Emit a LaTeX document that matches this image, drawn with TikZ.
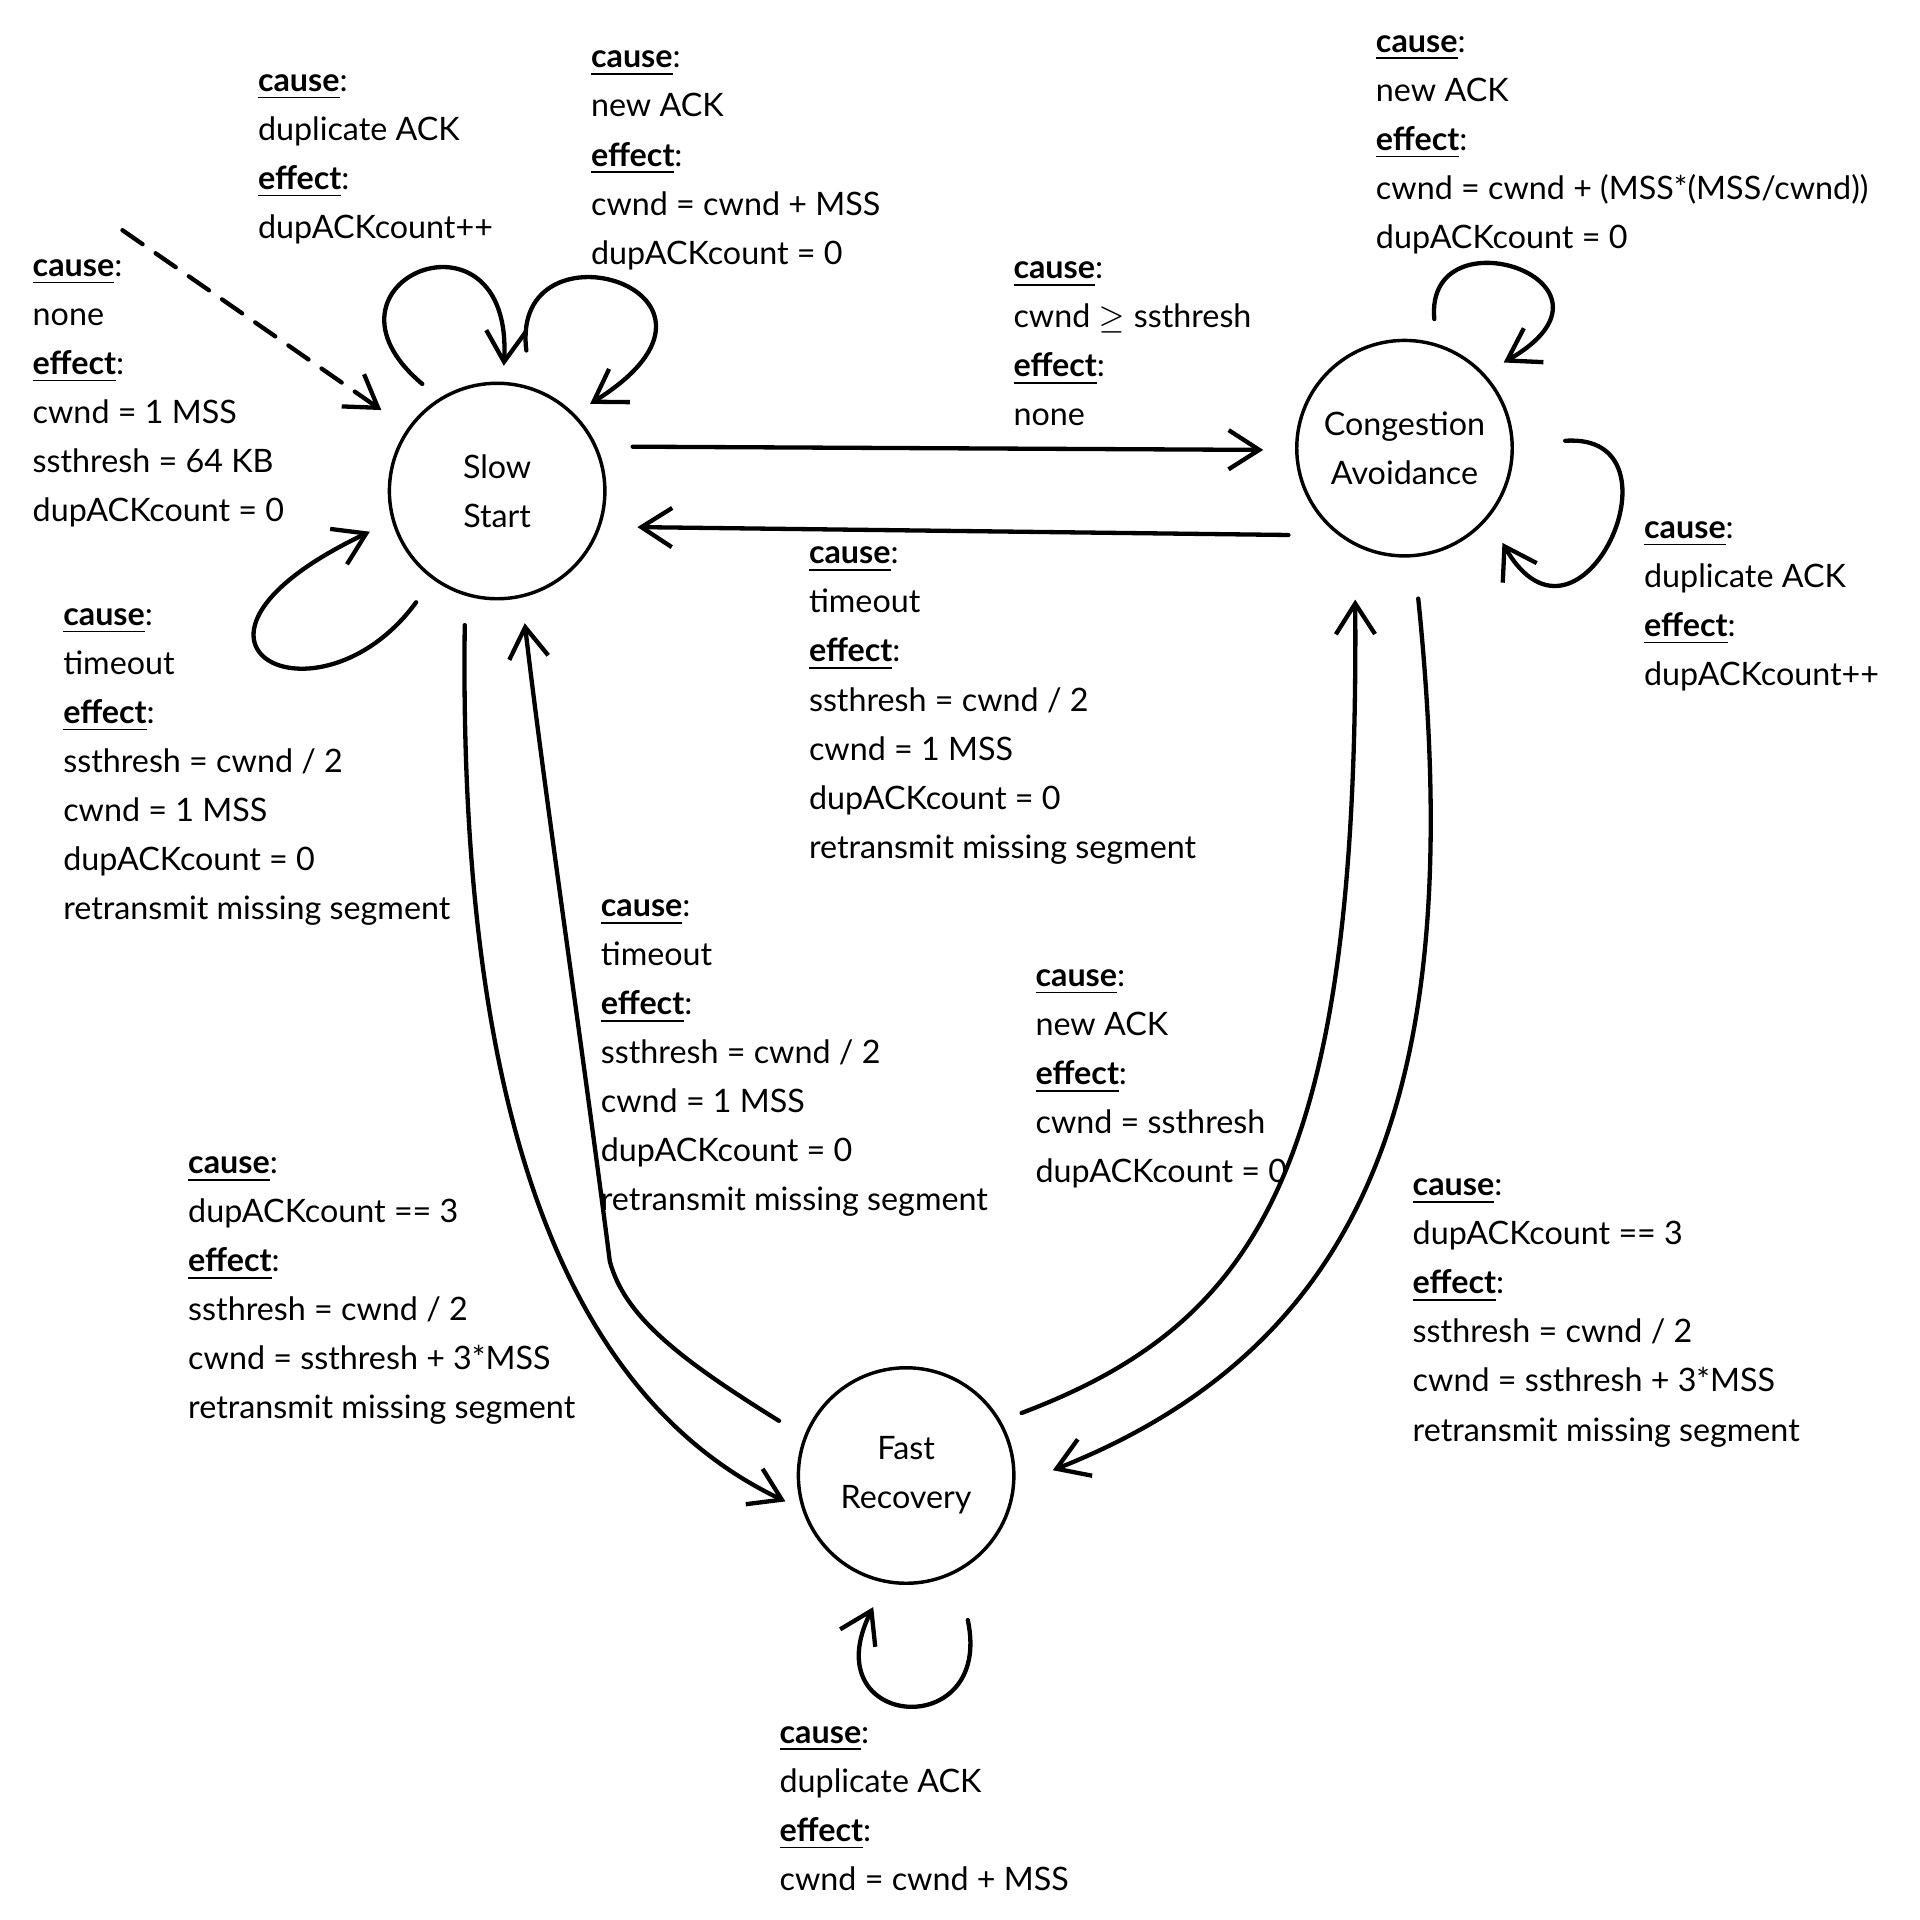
\documentclass[tikz,border=0pt]{standalone}
\usepackage{fontspec}
\setmainfont{Lato}
\usetikzlibrary{arrows.meta}

\newcommand{\causelbl}{\underline{\textbf{cause}}:}
\newcommand{\effectlbl}{\underline{\textbf{effect}}:}

\begin{document}
\begin{tikzpicture}[
  state/.style={draw, circle, thick, minimum size=1.76cm, inner sep=0pt, align=center, font=\fontsize{7.5}{11.4}\selectfont},
  lbl/.style={anchor=north west, align=left, inner sep=0pt, font=\fontsize{7.5}{11.4}\selectfont},
  trans/.style={line width=1pt, line cap=round, -{Straight Barb[length=2.5mm,width=3.2mm]}},
]
  \useasboundingbox (0,0) rectangle (15.68,-15.68);

  % states
  \node[state] (ss) at (4.06,-4.01) {Slow\\Start};
  \node[state] (ca) at (11.47,-3.66) {Congestion\\Avoidance};
  \node[state] (fr) at (7.40,-12.05) {Fast\\Recovery};
  \coordinate (init) at (1.00,-1.88);

  % start
  \draw[trans, dash pattern=on 2mm off 1.3mm, shorten >=0.26cm] (init) -- (ss.145);
  \node[lbl] (initlbl) at (0.26,-2.11) {\causelbl\\none\\\effectlbl\\cwnd = 1 MSS\\ssthresh = 64 KB\\dupACKcount = 0};

  % slow start
  \draw[trans, shorten <=0.18cm, shorten >=0.13cm] (ss.122) .. controls +(-1.14,0.96) and +(0.09,1.53) .. (ss.87);
  \node[lbl] (ssduplbl) at (2.10,-0.60) {\causelbl\\duplicate ACK\\\effectlbl\\dupACKcount++};
  \draw[trans, shorten <=0.30cm, shorten >=0.15cm] (ss.72) .. controls +(-0.18,1.42) and +(1.60,1.00) .. (ss.45);
  \node[lbl] (ssnewlbl) at (4.82,-0.41) {\causelbl\\new ACK\\\effectlbl\\cwnd = cwnd + MSS\\dupACKcount = 0};
  \draw[trans, shorten <=0.23cm, shorten >=0.20cm] (ss.234) .. controls +(-0.94,-1.28) and +(-2.10,-1.00) .. (ss.196);
  \node[lbl] (sstimelbl) at (0.51,-4.96) {\causelbl\\timeout\\\effectlbl\\ssthresh = cwnd / 2\\cwnd = 1 MSS\\dupACKcount = 0\\retransmit missing segment};

  % slow start <-> congestion avoidance
  \draw[trans, shorten <=0.29cm, shorten >=0.26cm] (ss.24) -- (ca.181);
  \node[lbl] (sscalbl) at (8.27,-2.13) {\causelbl\\cwnd $\geq$ ssthresh\\\effectlbl\\none};
  \draw[trans, shorten <=0.41cm, shorten >=0.30cm] (ca.233) -- (ss.-19);
  \node[lbl] (casslbl) at (6.60,-4.46) {\causelbl\\timeout\\\effectlbl\\ssthresh = cwnd / 2\\cwnd = 1 MSS\\dupACKcount = 0\\retransmit missing segment};

  % congestion avoidance
  \draw[trans, shorten <=0.20cm, shorten >=0.18cm] (ca.73) .. controls +(-0.10,1.10) and +(1.30,0.75) .. (ca.43);
  \node[lbl] (canewlbl) at (11.23,-0.28) {\causelbl\\new ACK\\\effectlbl\\cwnd = cwnd + (MSS*(MSS/cwnd))\\dupACKcount = 0};
  \draw[trans, shorten <=0.42cm, shorten >=0.23cm] (ca.2) .. controls +(1.45,0.10) and +(0.75,-1.30) .. (ca.-40);
  \node[lbl] (caduplbl) at (13.42,-4.25) {\causelbl\\duplicate ACK\\\effectlbl\\dupACKcount++};

  % slow start <-> fast recovery
  \draw[trans, shorten <=0.24cm, shorten >=0.15cm] (ss.253) .. controls (3.75,-8.6) and (4.4,-11.3) .. (fr.198);
  \node[lbl] (ssfrlbl) at (1.53,-9.44) {\causelbl\\dupACKcount == 3\\\effectlbl\\ssthresh = cwnd / 2\\cwnd = ssthresh + 3*MSS\\retransmit missing segment};
  \draw[trans, shorten <=0.24cm, shorten >=0.21cm] (fr.159) .. controls (5.55,-11.1) and (5.1,-10.75) .. (4.98,-10.3) .. controls (4.75,-8.5) and (4.45,-6.5) .. (ss.283);
  \node[lbl] (frsslbl) at (4.90,-7.34) {\causelbl\\timeout\\\effectlbl\\ssthresh = cwnd / 2\\cwnd = 1 MSS\\dupACKcount = 0\\retransmit missing segment};

  % fast recovery <-> congestion avoidance
  \draw[trans, shorten <=0.18cm, shorten >=0.44cm] (fr.30) .. controls (10.3,-10.8) and (11.1,-9.5) .. (ca.243);
  \node[lbl] (frcalbl) at (8.45,-7.91) {\causelbl\\new ACK\\\effectlbl\\cwnd = ssthresh\\dupACKcount = 0};
  \draw[trans, shorten <=0.34cm, shorten >=0.33cm] (ca.-85) .. controls (11.95,-8.5) and (11.4,-10.9) .. (fr.-5);
  \node[lbl] (cafrlbl) at (11.53,-9.62) {\causelbl\\dupACKcount == 3\\\effectlbl\\ssthresh = cwnd / 2\\cwnd = ssthresh + 3*MSS\\retransmit missing segment};

  % fast recovery
  \draw[trans, shorten <=0.40cm, shorten >=0.22cm] (fr.-62) .. controls +(0.30,-1.40) and +(-0.60,-1.20) .. (fr.-101);
  \node[lbl] (frduplbl) at (6.36,-14.09) {\causelbl\\duplicate ACK\\\effectlbl\\cwnd = cwnd + MSS};
\end{tikzpicture}
\end{document}
